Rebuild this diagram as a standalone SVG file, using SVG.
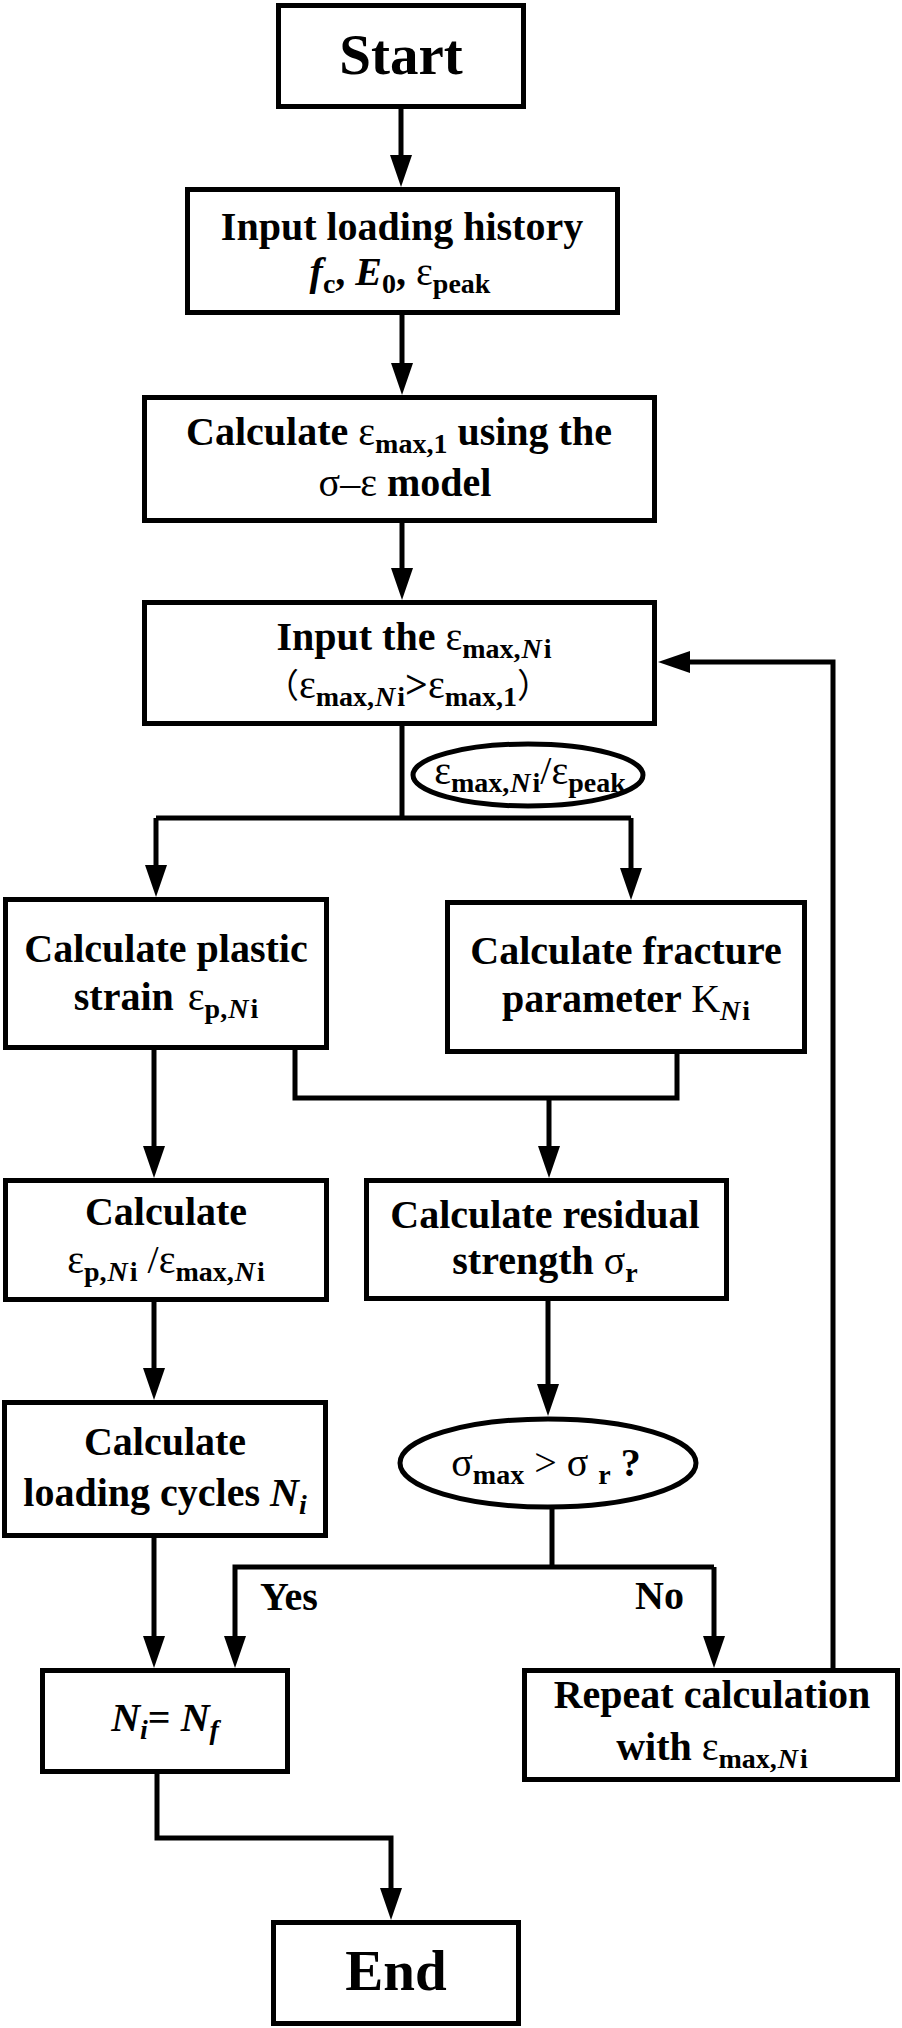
<svg xmlns="http://www.w3.org/2000/svg" width="902" height="2028" viewBox="0 0 902 2028">
<style>
  .box { fill: #fff; stroke: #000; stroke-width: 5; }
  .ell { fill: #fff; stroke: #000; stroke-width: 5; }
  .con { fill: none; stroke: #000; stroke-width: 5; stroke-linejoin: miter; }
  .arr { marker-end: url(#ah); }
  .t { font-family: 'Liberation Serif', 'Times New Roman', serif; font-weight: 700; font-size: 40px; fill: #000; text-anchor: middle; }
  .big { font-size: 57px; }
  .g { font-weight: 400; }
  .cjk { font-family: 'Noto Sans CJK SC', sans-serif; font-weight: 400; font-size: 34px; }
  .s { font-size: 28px; }
  .i { font-style: italic; }
  .lbl { text-anchor: start; }
</style>
<defs>
  <marker id="ah" viewBox="0 0 32 22" refX="12" refY="11" markerWidth="32" markerHeight="22" markerUnits="userSpaceOnUse" orient="auto">
    <path d="M0,0 L32,11 L0,22 Z" fill="#000"/>
  </marker>
</defs>

<g id="connectors">
  <line class="con arr" x1="401" y1="109" x2="401" y2="167"/>
  <line class="con arr" x1="402" y1="315" x2="402" y2="375"/>
  <line class="con arr" x1="402" y1="523" x2="402" y2="580"/>
  <path class="con" d="M402,726 V818"/>
  <path class="con" d="M156,818 H631"/>
  <line class="con arr" x1="156" y1="818" x2="156" y2="877"/>
  <line class="con arr" x1="631" y1="818" x2="631" y2="880"/>
  <line class="con arr" x1="154" y1="1050" x2="154" y2="1158"/>
  <path class="con" d="M295,1050 V1098 H677 V1054"/>
  <line class="con arr" x1="549" y1="1098" x2="549" y2="1158"/>
  <line class="con arr" x1="154" y1="1302" x2="154" y2="1380"/>
  <line class="con arr" x1="548" y1="1301" x2="548" y2="1396"/>
  <path class="con" d="M552,1508 V1567"/>
  <path class="con arr" d="M714,1567 H235 V1648"/>
  <line class="con arr" x1="714" y1="1567" x2="714" y2="1648"/>
  <line class="con arr" x1="154" y1="1538" x2="154" y2="1648"/>
  <path class="con arr" d="M833,1668 V662 H678"/>
  <path class="con arr" d="M157,1774 V1838 H391 V1900"/>
  <text class="t lbl" x="260" y="1610">Yes</text>
  <text class="t lbl" x="635" y="1609">No</text>
</g>

<g id="start">
  <rect class="box" x="278.5" y="5.5" width="245" height="101"/>
  <text class="t big" x="401" y="74">Start</text>
</g>

<g id="input-loading">
  <rect class="box" x="187.5" y="189.5" width="430" height="123"/>
  <text class="t" x="402" y="240">Input loading history</text>
  <text class="t" x="400" y="285"><tspan class="i">f</tspan><tspan class="s" dy="8">c</tspan><tspan dy="-8">, </tspan><tspan class="i">E</tspan><tspan class="s" dy="8">0</tspan><tspan dy="-8">, </tspan><tspan class="g">ε</tspan><tspan class="s" dy="8">peak</tspan></text>
</g>

<g id="calc-emax1">
  <rect class="box" x="144.5" y="397.5" width="510" height="123"/>
  <text class="t" x="399" y="445">Calculate <tspan class="g">ε</tspan><tspan class="s" dy="8">max,1</tspan><tspan dy="-8"> using the</tspan></text>
  <text class="t" x="405" y="496"><tspan class="g">σ–ε</tspan> model</text>
</g>

<g id="input-emaxNi">
  <rect class="box" x="144.5" y="602.5" width="510" height="121"/>
  <text class="t" x="414" y="650">Input the <tspan class="g">ε</tspan><tspan class="s" dy="8">max,<tspan class="i" dx="1">N</tspan><tspan dx="2">i</tspan></tspan></text>
  <text class="t" x="408" y="698"><tspan class="cjk">（</tspan><tspan class="g">ε</tspan><tspan class="s" dy="8">max,<tspan class="i" dx="1">N</tspan><tspan dx="2">i</tspan></tspan><tspan dy="-8">&gt;</tspan><tspan class="g">ε</tspan><tspan class="s" dy="8">max,1</tspan><tspan class="cjk" dy="-8">）</tspan></text>
</g>

<g id="ratio-ellipse">
  <ellipse class="ell" cx="528" cy="775" rx="115" ry="31"/>
  <text class="t" x="530" y="784"><tspan class="g">ε</tspan><tspan class="s" dy="8">max,<tspan class="i" dx="1">N</tspan><tspan dx="2">i</tspan></tspan><tspan class="g" dy="-8">/ε</tspan><tspan class="s" dy="8">peak</tspan></text>
</g>

<g id="plastic-strain">
  <rect class="box" x="5.5" y="899.5" width="321" height="148"/>
  <text class="t" x="166" y="962">Calculate plastic</text>
  <text class="t" x="166" y="1010">strain<tspan class="g" dx="14">ε</tspan><tspan class="s" dy="8">p,<tspan class="i" dx="1">N</tspan><tspan dx="2">i</tspan></tspan></text>
</g>

<g id="fracture-param">
  <rect class="box" x="447.5" y="902.5" width="357" height="149"/>
  <text class="t" x="626" y="964">Calculate fracture</text>
  <text class="t" x="626" y="1012">parameter <tspan class="g">K</tspan><tspan class="s" dy="8"><tspan class="i">N</tspan><tspan dx="2">i</tspan></tspan></text>
</g>

<g id="plastic-ratio">
  <rect class="box" x="5.5" y="1180.5" width="321" height="119"/>
  <text class="t" x="166" y="1225">Calculate</text>
  <text class="t" x="166" y="1273"><tspan class="g">ε</tspan><tspan class="s" dy="8">p,<tspan class="i" dx="1">N</tspan><tspan dx="2">i</tspan></tspan><tspan class="g" dy="-8"> /ε</tspan><tspan class="s" dy="8">max,<tspan class="i" dx="1">N</tspan><tspan dx="2">i</tspan></tspan></text>
</g>

<g id="residual-strength">
  <rect class="box" x="366.5" y="1180.5" width="360" height="118"/>
  <text class="t" x="545" y="1228">Calculate residual</text>
  <text class="t" x="545" y="1274">strength <tspan class="g">σ</tspan><tspan class="s" dy="8">r</tspan></text>
</g>

<g id="loading-cycles">
  <rect class="box" x="4.5" y="1402.5" width="321" height="133"/>
  <text class="t" x="165" y="1455">Calculate</text>
  <text class="t" x="165" y="1506">loading cycles <tspan class="i">N</tspan><tspan class="s i" dy="8">i</tspan></text>
</g>

<g id="decision">
  <ellipse class="ell" cx="548" cy="1463" rx="148" ry="44"/>
  <text class="t" x="546" y="1476"><tspan class="g">σ</tspan><tspan class="s" dy="8">max</tspan><tspan class="g" dy="-8"> &gt; σ </tspan><tspan class="s" dy="8">r</tspan><tspan dy="-8"> ?</tspan></text>
</g>

<g id="ni-nf">
  <rect class="box" x="42.5" y="1670.5" width="245" height="101"/>
  <text class="t" x="165" y="1731"><tspan class="i">N</tspan><tspan class="s i" dy="8">i</tspan><tspan dy="-8">= </tspan><tspan class="i">N</tspan><tspan class="s i" dy="8">f</tspan></text>
</g>

<g id="repeat">
  <rect class="box" x="524.5" y="1670.5" width="373" height="109"/>
  <text class="t" x="712" y="1708">Repeat calculation</text>
  <text class="t" x="712" y="1760">with <tspan class="g">ε</tspan><tspan class="s" dy="8">max,<tspan class="i" dx="1">N</tspan><tspan dx="2">i</tspan></tspan></text>
</g>

<g id="end">
  <rect class="box" x="273.5" y="1922.5" width="245" height="101"/>
  <text class="t big" x="396" y="1990">End</text>
</g>
</svg>
